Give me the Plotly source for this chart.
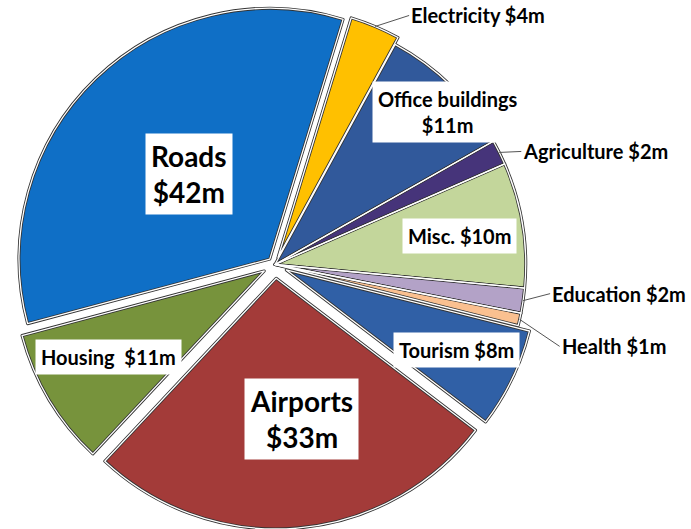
import math
import plotly.graph_objects as go

# dados (milhões de $), na ordem horária a partir de Electricity
setores = ["Electricity", "Office buildings", "Agriculture", "Misc.", "Education",
           "Health", "Tourism", "Airports", "Housing", "Roads"]
valores = [4, 11, 2, 10, 2, 1, 8, 33, 11, 42]
rotulos = ["Electricity $4m", "Office buildings<br>$11m", "Agriculture $2m", "Misc. $10m",
           "Education $2m", "Health $1m", "Tourism $8m", "Airports<br>$33m",
           "Housing  $11m", "Roads<br>$42m"]

cores = ["#FFC000", "#31599B", "#46347A", "#C3D69B", "#B3A2C7",
         "#FAC090", "#3060A6", "#A33B39", "#77933C", "#0F6FC6"]
destaque = [0.03, 0, 0, 0, 0, 0, 0.05, 0.055, 0.05, 0.03]

W, H = 691, 529
dom_x = [0.01, 0.786]
rotacao = 17

fig = go.Figure()
# contorno escuro por baixo...
fig.add_trace(go.Pie(
    labels=setores, values=valores, sort=False, direction="clockwise",
    rotation=rotacao, pull=destaque, textinfo="none", hoverinfo="label+value",
    marker=dict(colors=cores, line=dict(color="#333333", width=3)),
    domain=dict(x=dom_x, y=[0, 1]), showlegend=False,
))
# ...e fio branco por cima, separando as fatias
fig.add_trace(go.Pie(
    labels=setores, values=valores, sort=False, direction="clockwise",
    rotation=rotacao, pull=destaque, textinfo="none", hoverinfo="skip",
    marker=dict(colors=["rgba(0,0,0,0)"] * len(valores), line=dict(color="white", width=1.3)),
    domain=dict(x=dom_x, y=[0, 1]), showlegend=False,
))

# geometria da pizza (mesma regra do plotly.js) para posicionar os rótulos
r = min(W * (dom_x[1] - dom_x[0]), H) / (2 + 2 * max(destaque))
cx = W * (dom_x[0] + dom_x[1]) / 2
cy = H / 2
total = sum(valores)


def ponto(i, frac, desvio=0.0):
    antes = sum(valores[:i])
    meio = rotacao + (antes + valores[i] / 2) / total * 360 + desvio
    a = math.radians(meio)
    rr = r * (frac + destaque[i])
    return (cx + rr * math.sin(a)) / W, 1 - (cy - rr * math.cos(a)) / H


# rótulos internos com fundo branco: (índice, fração do raio, desvio angular, tamanho)
internos = [(9, 0.47, 0.5, 28), (7, 0.57, -5, 28), (8, 0.71, 1.7, 20), (1, 0.92, 4, 20),
            (3, 0.745, 0.5, 20), (6, 0.75, -0.5, 20)]
for i, frac, desv, tam in internos:
    x, y = ponto(i, frac, desv)
    fig.add_annotation(x=x, y=y, xref="paper", yref="paper", text=rotulos[i],
                       xanchor="center", yanchor="middle",
                       showarrow=False, bgcolor="white", borderpad=5,
                       font=dict(family="Lato", size=tam, color="black", weight="bold"))

# rótulos externos com linha de chamada: (índice, deslocamento x, deslocamento y em px)
externos = [(0, 34, -11), (2, 22, -1), (4, 27, -7), (5, 40, 27)]
for i, dx, dy in externos:
    x, y = ponto(i, 1.0)
    fig.add_annotation(x=x, y=y, xref="paper", yref="paper", text=rotulos[i],
                       showarrow=True, arrowhead=0, arrowwidth=1, arrowcolor="#555555",
                       ax=dx, ay=dy, xanchor="left", yanchor="middle",
                       font=dict(family="Lato", size=20, color="black", weight="bold"))

fig.update_layout(width=W, height=H, margin=dict(l=0, r=0, t=0, b=0),
                  paper_bgcolor="white", plot_bgcolor="white")
fig.write_html("out.html", config={"displayModeBar": False},
               post_script="document.body.style.margin='0';")
